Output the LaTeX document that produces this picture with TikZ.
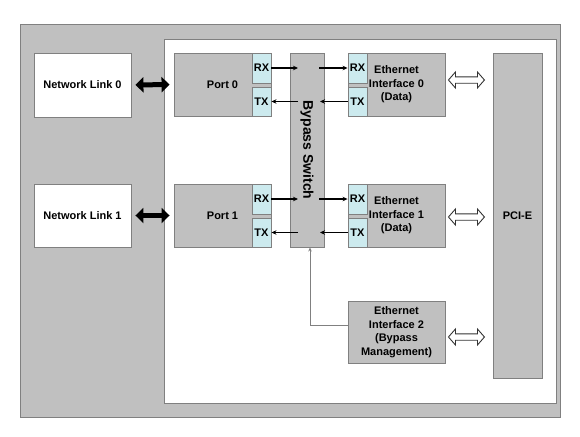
\documentclass[tikz,border=0pt]{standalone}
\usepackage{fontspec}
\setmainfont{Liberation Sans}
\usetikzlibrary{arrows.meta,calc}
\definecolor{boxgray}{RGB}{192,192,192}
\definecolor{edgegray}{RGB}{128,128,128}
\definecolor{paleblue}{RGB}{204,234,238}
\begin{document}
\begin{tikzpicture}[x=1pt,y=-1pt,
  txt/.style={font=\fontsize{11}{13.5}\selectfont\bfseries, text=black, align=center},
  frame/.style={draw=edgegray, line width=0.9pt},
  box/.style={frame, fill=boxgray, inner sep=0pt, txt},
  whitebox/.style={frame, fill=white, inner sep=0pt, txt},
  subbox/.style={frame, fill=paleblue, inner sep=0pt, minimum width=19pt, txt},
  sig/.style={line width=1.1pt, -{Stealth[length=5pt,width=4.5pt]}},
  ctl/.style={draw=edgegray, line width=0.8pt, -{Stealth[length=4pt,width=3.5pt]}},
  linkarrow/.style={line width=5pt, shorten <=4pt, shorten >=4pt,
     {Triangle[length=8pt,width=15pt]}-{Triangle[length=8pt,width=15pt]}},
  hollowarrow/.pic={\draw[black!80, line width=0.9pt, fill=white, line join=miter]
     (0,0) -- (7,8) -- (7,3.2) -- (29,3.2) -- (29,8) -- (36,0) -- (29,-8) -- (29,-3.2)
     -- (7,-3.2) -- (7,-8) -- cycle;}
]
% page
\fill[white] (0,0) rectangle (580,436);
\useasboundingbox (0,0) rectangle (580,436);
% enclosures
\draw[frame, fill=boxgray] (20,24) rectangle (560,417);
\draw[frame, fill=white] (164,39) rectangle (556,403);

% network links
\node[whitebox, minimum width=97pt, minimum height=64pt] (nl0) at (82.5,85) {Network Link 0};
\node[whitebox, minimum width=97pt, minimum height=63pt] (nl1) at (82.5,215.5) {Network Link 1};

% ports
\node[box, minimum width=97pt, minimum height=63pt] (port0) at (222.5,84.5) {Port 0};
\node[subbox, minimum height=30pt] (prx0) at (261.5,68) {RX};
\node[subbox, minimum height=29pt] (ptx0) at (261.5,101.5) {TX};
\node[box, minimum width=97pt, minimum height=63pt] (port1) at (222.5,215.5) {Port 1};
\node[subbox, minimum height=30pt] (prx1) at (261.5,199) {RX};
\node[subbox, minimum height=29pt] (ptx1) at (261.5,232.5) {TX};

% bypass switch
\node[box, minimum width=34pt, minimum height=194pt] (sw) at (307,150) {};
\node[font=\fontsize{14}{16}\selectfont\bfseries, rotate=-90] (swlabel) at (sw.center) {Bypass Switch};

% ethernet interfaces
\node[box, minimum width=97pt, minimum height=63pt] (ei0) at (396.5,84.5) {Ethernet\\Interface 0\\(Data)};
\node[subbox, minimum height=30pt] (erx0) at (357.5,68) {RX};
\node[subbox, minimum height=29pt] (etx0) at (357.5,101.5) {TX};
\node[box, minimum width=97pt, minimum height=63pt] (ei1) at (396.5,215.5) {Ethernet\\Interface 1\\(Data)};
\node[subbox, minimum height=30pt] (erx1) at (357.5,199) {RX};
\node[subbox, minimum height=29pt] (etx1) at (357.5,232.5) {TX};
\node[box, minimum width=97pt, minimum height=62pt] (ei2) at (396.5,332) {Ethernet\\Interface 2\\(Bypass\\Management)};

% PCI-E
\node[box, minimum width=49pt, minimum height=325pt] (pci) at (517.5,215.5) {PCI-E};

% link arrows
\draw[linkarrow] (nl0.east) -- (port0.west);
\draw[linkarrow] (nl1.east) -- (port1.west);

% signal arrows
\draw[sig, shorten >=9pt] (prx0.east) -- (prx0.east -| sw.center);
\draw[sig, shorten <=12pt] (erx0.west -| sw.center) -- (erx0.west);
\draw[sig, shorten >=13pt] (etx0.west) -- (etx0.west -| sw.center);
\draw[sig, shorten <=9pt] (ptx0.east -| sw.center) -- (ptx0.east);
\draw[sig, shorten >=9pt] (prx1.east) -- (prx1.east -| sw.center);
\draw[sig, shorten <=12pt] (erx1.west -| sw.center) -- (erx1.west);
\draw[sig, shorten >=13pt] (etx1.west) -- (etx1.west -| sw.center);
\draw[sig, shorten <=9pt] (ptx1.east -| sw.center) -- (ptx1.east);

% management control line
\draw[ctl] ([yshift=7pt]ei2.west) -| ([xshift=3pt]sw.south);

% PCI-E hollow arrows
\pic at ([xshift=3pt,yshift=4.5pt]ei0.east) {hollowarrow};
\pic at ([xshift=3pt,yshift=-1.5pt]ei1.east) {hollowarrow};
\pic at ([xshift=3pt,yshift=-5pt]ei2.east) {hollowarrow};
\end{tikzpicture}
\end{document}
